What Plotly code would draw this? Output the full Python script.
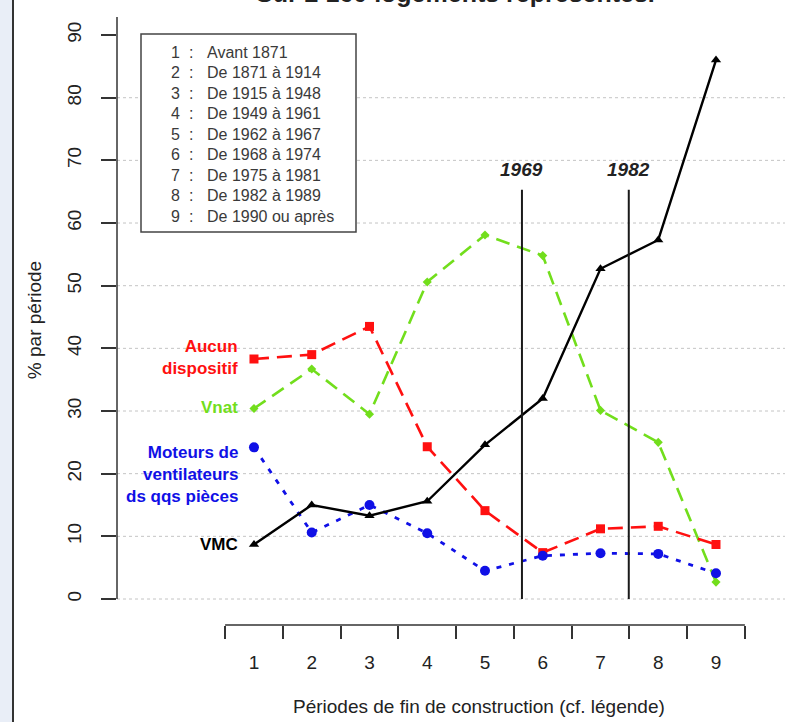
import plotly.graph_objects as go

# --- data -------------------------------------------------------------
PERIODS = [1, 2, 3, 4, 5, 6, 7, 8, 9]
PERIOD_LABELS = ["1", "2", "3", "4", "5", "6", "7", "8", "9"]

AUCUN_DISPOSITIF = [38.3, 39.0, 43.5, 24.3, 14.1, 7.4, 11.2, 11.6, 8.7]
VNAT = [30.4, 36.7, 29.5, 50.6, 58.1, 54.8, 30.1, 25.0, 2.7]
MOTEURS = [24.2, 10.6, 15.0, 10.5, 4.5, 6.9, 7.3, 7.2, 4.1]
VMC = [8.7, 15.0, 13.3, 15.6, 24.6, 32.0, 52.7, 57.3, 86.0]

PERIOD_NAMES = [
    "Avant 1871",
    "De 1871 à 1914",
    "De 1915 à 1948",
    "De 1949 à 1961",
    "De 1962 à 1967",
    "De 1968 à 1974",
    "De 1975 à 1981",
    "De 1982 à 1989",
    "De 1990 ou après",
]

YEAR_MARKS = ["1969", "1982"]
YEAR_POS = [5.64, 7.49]
YEAR_LINE_TOP = 65.3

Y_TICKS = [0, 10, 20, 30, 40, 50, 60, 70, 80, 90]
GRID_LEVELS = [0, 10, 20, 30, 40, 50, 60, 70, 80]
X_TICK_MARKS = [0.5, 1.5, 2.5, 3.5, 4.5, 5.5, 6.5, 7.5, 8.5, 9.5]

# --- geometry ---------------------------------------------------------
W, H = 785, 722
ML, MR, MT, MB = 117, 0, 17, 97
X_RANGE = [-1.372, 10.195]
Y_RANGE = [-4.15, 92.88]

FONT = "Liberation Sans, Arial, sans-serif"
DARK = "#222222"


def xpaper(v):
    return (v - X_RANGE[0]) / (X_RANGE[1] - X_RANGE[0])


def ypaper(v):
    return (v - Y_RANGE[0]) / (Y_RANGE[1] - Y_RANGE[0])


fig = go.Figure()

series = [
    ("Vnat", VNAT, "#72de1c", "14px,8px", "diamond", 7, 2.6),
    ("Aucun dispositif", AUCUN_DISPOSITIF, "#ff1010", "15px,8px", "square", 9, 2.6),
    ("Moteurs", MOTEURS, "#1010e6", "5px,8px", "circle", 10, 2.8),
    ("VMC", VMC, "#000000", "solid", "triangle-up", 9, 2.4),
]
for name, vals, color, dash, sym, msize, lw in series:
    fig.add_trace(go.Scatter(
        x=PERIODS, y=vals, name=name, mode="lines+markers",
        line=dict(color=color, width=lw, dash=dash),
        marker=dict(symbol=sym, size=msize, color=color),
        xaxis="x", yaxis="y", showlegend=False,
    ))

# vertical reference years
vx, vy = [], []
for p in YEAR_POS:
    vx += [p, p, None]
    vy += [0, YEAR_LINE_TOP, None]
fig.add_trace(go.Scatter(
    x=vx, y=vy, mode="lines", line=dict(color="#1a1a1a", width=2),
    xaxis="x2", yaxis="y", showlegend=False, hoverinfo="skip",
))

shapes = []
# left strip and frame
shapes.append(dict(type="rect", xref="paper", yref="paper",
                   xsizemode="pixel", xanchor=0, x0=-ML, x1=-104,
                   ysizemode="pixel", yanchor=0, y0=-MB, y1=H,
                   fillcolor="#e9eef7", line=dict(width=0), layer="below"))
shapes.append(dict(type="line", xref="paper", yref="paper",
                   xsizemode="pixel", xanchor=0, x0=-104, x1=-104,
                   ysizemode="pixel", yanchor=0, y0=-MB, y1=H,
                   line=dict(color="#333333", width=2)))
# dotted gridlines
for g in GRID_LEVELS:
    shapes.append(dict(type="line", xref="paper", yref="y", x0=0, x1=1,
                       y0=g, y1=g, layer="below",
                       line=dict(color="#c4c4c4", width=1, dash="dot")))
# period key box
shapes.append(dict(type="rect", xref="paper", yref="paper",
                   xsizemode="pixel", xanchor=0, x0=24, x1=239,
                   ysizemode="pixel", yanchor=1, y0=-17, y1=-215,
                   fillcolor="white", line=dict(color="#444444", width=1.5),
                   layer="below"))
# y axis line (0 up to top) and x axis line (0.5 to 9.5)
shapes.append(dict(type="line", xref="paper", yref="paper", x0=0, x1=0,
                   y0=ypaper(0), y1=1, line=dict(color="#333333", width=1.5)))
shapes.append(dict(type="line", xref="paper", yref="paper",
                   x0=xpaper(X_TICK_MARKS[0]), x1=xpaper(X_TICK_MARKS[-1]),
                   y0=0, y1=0, line=dict(color="#333333", width=1.5)))

annotations = []
# heading, mostly above the top edge of the page
annotations.append(dict(text="<b>Sur 2 160 logements représentés.</b>",
                        xref="paper", yref="paper", x=xpaper(4.49), y=1,
                        xanchor="center", yanchor="bottom", yshift=8,
                        showarrow=False, font=dict(family=FONT, size=25, color=DARK)))
# key lines
for i, nm in enumerate(PERIOD_NAMES):
    ys = -(35 + 20.5 * i)
    common = dict(xref="paper", yref="paper", x=0, y=1, yanchor="middle",
                  yshift=ys, showarrow=False,
                  font=dict(family=FONT, size=16, color="#3a3a3a"))
    annotations.append(dict(text=PERIOD_LABELS[i], xanchor="center", xshift=58, **common))
    annotations.append(dict(text=":", xanchor="center", xshift=74, **common))
    annotations.append(dict(text=nm, xanchor="left", xshift=88, **common))

# series labels
lab = [
    ("Aucun<br>dispositif", 38.6, "#ff1010"),
    ("Vnat", 30.5, "#72de1c"),
    ("Moteurs de<br>ventilateurs<br>ds qqs pièces", 19.8, "#1010e6"),
    ("VMC", 8.7, "#000000"),
]
for txt, yv, col in lab:
    annotations.append(dict(text="<b>" + txt + "</b>", xref="x", yref="y",
                            x=0.76, y=yv, xanchor="right", yanchor="middle",
                            align="right", showarrow=False,
                            font=dict(family=FONT, size=17, color=col)))
# year labels
for yr, p in zip(YEAR_MARKS, YEAR_POS):
    annotations.append(dict(text="<b><i>" + yr + "</i></b>", xref="x", yref="y",
                            x=p, y=68.5, xanchor="center", yanchor="middle",
                            showarrow=False, font=dict(family=FONT, size=19, color=DARK)))
# axis titles
annotations.append(dict(text="Périodes de fin de construction (cf. légende)",
                        xref="x", yref="paper", x=4.9, y=0, yanchor="middle",
                        yshift=-81, showarrow=False,
                        font=dict(family=FONT, size=19, color=DARK)))
annotations.append(dict(text="% par période", xref="paper", yref="paper",
                        x=0, y=ypaper(44.5), xshift=-83, textangle=-90,
                        xanchor="center", yanchor="middle", showarrow=False,
                        font=dict(family=FONT, size=19, color=DARK)))

fig.update_layout(
    width=W, height=H,
    margin=dict(l=ML, r=MR, t=MT, b=MB, pad=0),
    paper_bgcolor="white", plot_bgcolor="white",
    xaxis=dict(range=X_RANGE, tickvals=PERIODS, ticktext=PERIOD_LABELS,
               ticks="", showgrid=False, zeroline=False, showline=False,
               ticklabelstandoff=24,
               tickfont=dict(family=FONT, size=19, color=DARK)),
    xaxis2=dict(range=X_RANGE, overlaying="x", anchor="y", side="bottom",
                tickvals=X_TICK_MARKS, ticks="outside", ticklen=13,
                tickwidth=1.5, tickcolor="#333333", showticklabels=False,
                showgrid=False, zeroline=False, showline=False),
    yaxis=dict(range=Y_RANGE, tickvals=Y_TICKS, tickangle=-90,
               ticks="outside", ticklen=15, tickwidth=1.5, tickcolor="#333333",
               showgrid=False, zeroline=False, showline=False,
               ticklabelstandoff=12,
               tickfont=dict(family=FONT, size=19, color=DARK)),
    shapes=shapes,
    annotations=annotations,
)

fig.write_html("out.html")
